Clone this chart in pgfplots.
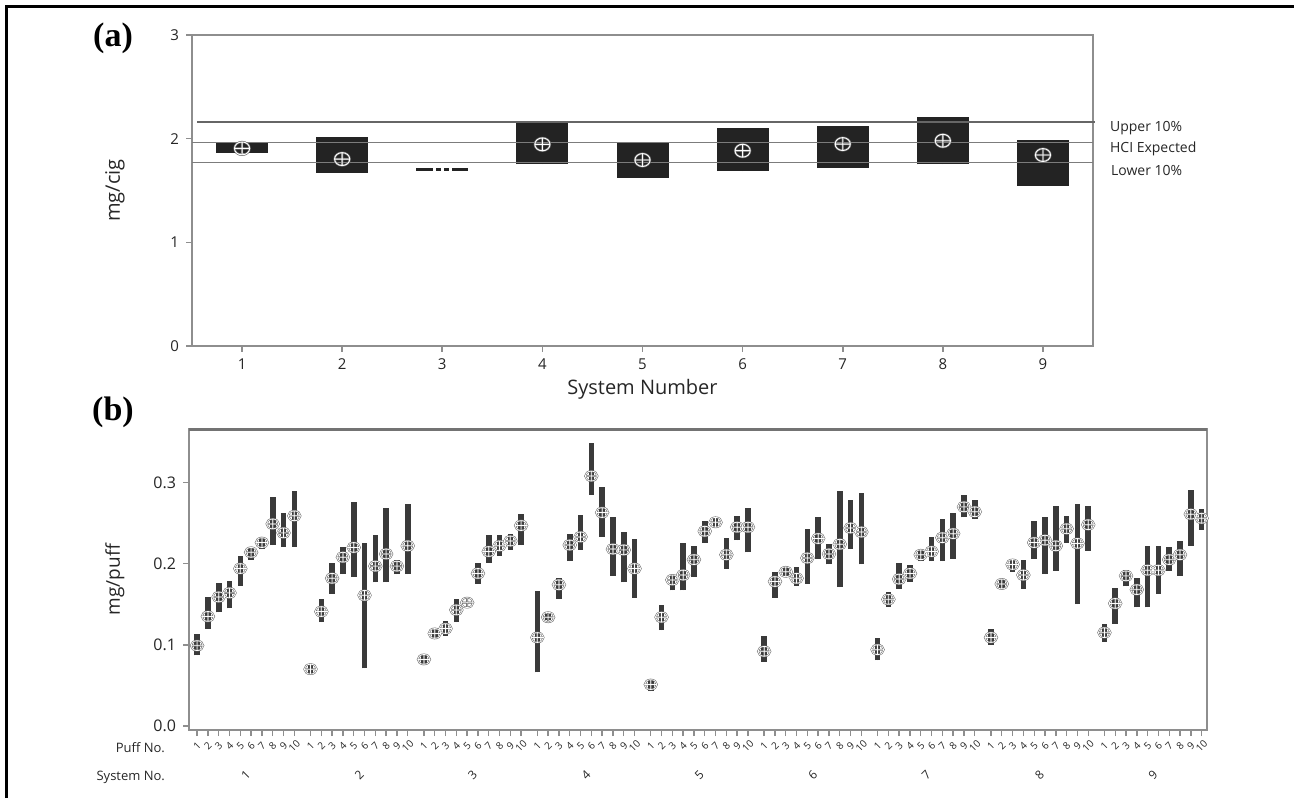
\documentclass[border=0pt]{standalone}
\usepackage{pgfplots}
\pgfplotsset{compat=1.18}
\usepackage{pgfplotstable}
\usepackage{fontspec}
\setmainfont{Open Sans}
\newfontfamily\tnr{Liberation Serif}
\definecolor{axgray}{HTML}{8E8E8E}
\definecolor{boxdark}{HTML}{232323}
\definecolor{bardark}{HTML}{3A3A3A}
\definecolor{refgray}{HTML}{7C7C7C}
\definecolor{mkgray}{HTML}{6A6A6A}

% Panel (a): system, box low, box high, mean (mg/cig)
\pgfplotstableread{
x lo hi mean
1 1.864 1.965 1.906
2 1.671 2.018 1.803
4 1.755 2.147 1.945
5 1.623 1.955 1.794
6 1.688 2.099 1.884
7 1.720 2.125 1.948
8 1.752 2.205 1.980
9 1.546 1.987 1.842
}\sysA

% Panel (b): position (system*10.5 + puff), range low, range high, mean (mg/puff)
\pgfplotstableread{
x lo hi mean
1 0.087 0.113 0.099
2 0.120 0.159 0.135
3 0.140 0.176 0.159
4 0.145 0.179 0.164
5 0.173 0.209 0.194
6 0.205 0.221 0.214
7 0.218 0.233 0.226
8 0.223 0.282 0.249
9 0.221 0.263 0.238
10 0.221 0.290 0.259
11.5 0.064 0.076 0.070
12.5 0.128 0.156 0.141
13.5 0.163 0.201 0.182
14.5 0.187 0.220 0.208
15.5 0.184 0.276 0.220
16.5 0.071 0.226 0.161
17.5 0.177 0.235 0.197
18.5 0.177 0.269 0.212
19.5 0.187 0.205 0.197
20.5 0.187 0.273 0.222
22 0.077 0.087 0.082
23 0.110 0.118 0.114
24 0.111 0.129 0.120
25 0.128 0.156 0.143
26 0.152 0.152 0.152
27 0.175 0.201 0.188
28 0.201 0.235 0.215
29 0.210 0.235 0.222
30 0.217 0.237 0.228
31 0.223 0.261 0.247
32.5 0.066 0.166 0.109
33.5 0.130 0.138 0.134
34.5 0.157 0.182 0.174
35.5 0.203 0.237 0.223
36.5 0.217 0.260 0.233
37.5 0.285 0.349 0.308
38.5 0.233 0.294 0.263
39.5 0.185 0.257 0.218
40.5 0.177 0.239 0.217
41.5 0.158 0.230 0.194
43 0.043 0.057 0.051
44 0.118 0.149 0.134
45 0.167 0.186 0.180
46 0.167 0.226 0.186
47 0.184 0.222 0.205
48 0.226 0.252 0.240
49 0.246 0.256 0.251
50 0.194 0.232 0.211
51 0.229 0.259 0.245
52 0.214 0.269 0.245
53.5 0.079 0.111 0.092
54.5 0.158 0.190 0.178
55.5 0.184 0.195 0.190
56.5 0.173 0.196 0.182
57.5 0.175 0.243 0.207
58.5 0.206 0.257 0.231
59.5 0.199 0.224 0.212
60.5 0.171 0.289 0.224
61.5 0.218 0.279 0.244
62.5 0.199 0.287 0.239
64 0.081 0.109 0.094
65 0.147 0.165 0.156
66 0.169 0.201 0.181
67 0.178 0.198 0.188
68 0.203 0.217 0.211
69 0.203 0.233 0.215
70 0.203 0.255 0.232
71 0.206 0.263 0.237
72 0.257 0.285 0.270
73 0.255 0.279 0.264
74.5 0.100 0.119 0.109
75.5 0.169 0.181 0.175
76.5 0.190 0.205 0.199
77.5 0.169 0.204 0.186
78.5 0.206 0.253 0.226
79.5 0.187 0.257 0.229
80.5 0.191 0.271 0.222
81.5 0.226 0.259 0.243
82.5 0.150 0.273 0.225
83.5 0.216 0.271 0.248
85 0.104 0.126 0.115
86 0.126 0.170 0.151
87 0.172 0.192 0.185
88 0.146 0.182 0.168
89 0.146 0.222 0.192
90 0.163 0.222 0.192
91 0.191 0.220 0.205
92 0.185 0.228 0.211
93 0.222 0.291 0.261
94 0.242 0.267 0.256
}\puffB

\begin{document}
\begin{tikzpicture}[x=0.5pt,y=0.5pt]
\path[use as bounding box] (0,0) rectangle (1294,798);
\draw[line width=1.5pt, black] (6,0) -- (6,791) -- (1294,791);

% ---------------- Panel (a) ----------------
\node[font=\tnr\bfseries\fontsize{17}{19}\selectfont] at (113,760) {(a)};
\begin{axis}[
  at={(96pt,226pt)}, anchor=south west, scale only axis,
  width=450.5pt, height=155.5pt,
  xmin=0.5, xmax=9.5, ymin=0, ymax=3,
  xtick={1,...,9}, ytick={0,1,2,3},
  axis line style={axgray, line width=0.8pt},
  tick style={axgray, line width=0.8pt},
  major tick length=3pt,
  tick align=outside, xtick pos=bottom, ytick pos=left,
  /pgf/number format/assume math mode=true,
  ticklabel style={font=\fontsize{7.5}{9}\selectfont, text=black!85},
  xlabel={System Number}, ylabel={mg/cig},
  xlabel style={at={(axis description cs:0.5,-0.138)}, anchor=center, font=\fontsize{10}{12}\selectfont, text=black!85},
  ylabel style={at={(axis description cs:-0.0855,0.5)}, anchor=center, font=\fontsize{10}{12}\selectfont, text=black!85},
  clip=false,
]
% boxes (range from lo to hi)
\addplot[only marks, mark=*, mark size=0pt, mark options={draw=none, fill=none},
  error bars/.cd, y dir=plus, y explicit, error mark=none,
  error bar style={line width=26pt, boxdark}]
  table[x=x, y=lo, y error plus expr=\thisrow{hi}-\thisrow{lo}] {\sysA};
% system 3: zero-height box
\addplot[no marks, boxdark, line width=1.6pt, dash pattern=on 8.5pt off 1.5pt on 2.5pt off 1.5pt on 2.5pt off 1.5pt on 9pt off 0pt]
  coordinates {(2.74,1.70) (3.26,1.70)};
% reference lines
\addplot[no marks, color=black!60, line width=1.2pt] coordinates {(0.55,2.163) (9.52,2.163)};
\addplot[no marks, color=refgray, line width=0.6pt] coordinates {(0.5,1.961) (9.5,1.961)};
\addplot[no marks, color=refgray, line width=0.6pt] coordinates {(0.5,1.771) (9.5,1.771)};
% means
\addplot[only marks, mark=oplus, mark size=3.8pt, mark options={draw=mkgray, line width=1.1pt, yscale=0.85}] table[x=x, y=mean] {\sysA};
\addplot[only marks, mark=oplus, mark size=3.8pt, mark options={draw=white, line width=0.45pt, yscale=0.85}] table[x=x, y=mean] {\sysA};
\end{axis}
\node[anchor=west, font=\fontsize{7}{8}\selectfont, text=black!85] at (1103,670) {Upper 10\%};
\node[anchor=west, font=\fontsize{7}{8}\selectfont, text=black!85] at (1103,649) {HCI Expected};
\node[anchor=west, font=\fontsize{7}{8}\selectfont, text=black!85] at (1104,628) {Lower 10\%};

% ---------------- Panel (b) ----------------
\node[font=\tnr\bfseries\fontsize{17}{19}\selectfont] at (113,386) {(b)};
\begin{axis}[
  at={(94.5pt,34pt)}, anchor=south west, scale only axis,
  width=509pt, height=150.5pt,
  xmin=0.25, xmax=94.5, ymin=-0.005, ymax=0.366,
  xtick=data, ytick={0,0.1,0.2,0.3},
  xticklabel={\pgfmathtruncatemacro\pn{mod(\ticknum,10)+1}\pn},
  xticklabel style={yshift=-5pt, rotate=45, anchor=center, inner sep=0.5pt, font=\fontsize{5}{6}\selectfont, text=black!85},
  axis line style={axgray, line width=0.8pt},
  tick style={axgray, line width=0.7pt},
  major tick length=3pt,
  tick align=outside, xtick pos=bottom, ytick pos=left,
  /pgf/number format/assume math mode=true,
  /pgf/number format/fixed, /pgf/number format/fixed zerofill, /pgf/number format/precision=1,
  yticklabel style={font=\fontsize{8}{9}\selectfont, text=black!85},
  ylabel={mg/puff},
  ylabel style={at={(axis description cs:-0.0727,0.5)}, anchor=center, font=\fontsize{9.5}{11}\selectfont, text=black!85},
  clip=false,
]
\addplot[only marks, mark=*, mark size=0pt, mark options={draw=none, fill=none},
  error bars/.cd, y dir=plus, y explicit, error mark=none,
  error bar style={line width=2.8pt, bardark}]
  table[x=x, y=lo, y error plus expr=\thisrow{hi}-\thisrow{lo}] {\puffB};
\addplot[only marks, mark=oplus, mark size=3.1pt, mark options={draw=mkgray, line width=0.9pt, yscale=0.8}] table[x=x, y=mean] {\puffB};
\addplot[only marks, mark=oplus, mark size=3.1pt, mark options={draw=white, line width=0.35pt, yscale=0.8}] table[x=x, y=mean] {\puffB};
\draw[black!55, line width=1.5pt] (rel axis cs:0,1) -- (rel axis cs:1,1);
\path (axis cs:5.5,-0.005) ++(0pt,-22.5pt) node[rotate=45, font=\fontsize{6}{7}\selectfont, text=black!85] {1};
\path (axis cs:16,-0.005) ++(0pt,-22.5pt) node[rotate=45, font=\fontsize{6}{7}\selectfont, text=black!85] {2};
\path (axis cs:26.5,-0.005) ++(0pt,-22.5pt) node[rotate=45, font=\fontsize{6}{7}\selectfont, text=black!85] {3};
\path (axis cs:37,-0.005) ++(0pt,-22.5pt) node[rotate=45, font=\fontsize{6}{7}\selectfont, text=black!85] {4};
\path (axis cs:47.5,-0.005) ++(0pt,-22.5pt) node[rotate=45, font=\fontsize{6}{7}\selectfont, text=black!85] {5};
\path (axis cs:58,-0.005) ++(0pt,-22.5pt) node[rotate=45, font=\fontsize{6}{7}\selectfont, text=black!85] {6};
\path (axis cs:68.5,-0.005) ++(0pt,-22.5pt) node[rotate=45, font=\fontsize{6}{7}\selectfont, text=black!85] {7};
\path (axis cs:79,-0.005) ++(0pt,-22.5pt) node[rotate=45, font=\fontsize{6}{7}\selectfont, text=black!85] {8};
\path (axis cs:89.5,-0.005) ++(0pt,-22.5pt) node[rotate=45, font=\fontsize{6}{7}\selectfont, text=black!85] {9};
\end{axis}
\node[anchor=east, font=\fontsize{6.5}{7}\selectfont, text=black!85] at (172,50) {Puff No.};
\node[anchor=east, font=\fontsize{6.5}{7}\selectfont, text=black!85] at (172,21) {System No.};
\end{tikzpicture}
\end{document}
